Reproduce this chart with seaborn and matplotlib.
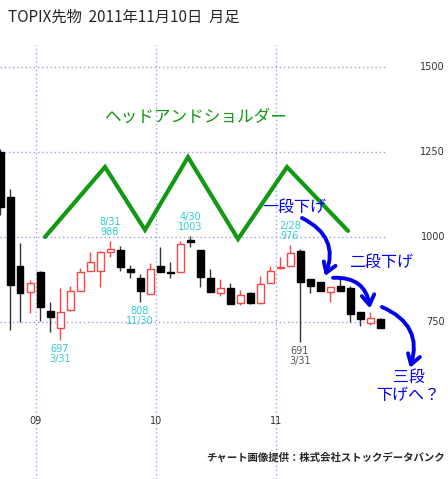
import matplotlib
matplotlib.use("Agg")
import matplotlib.pyplot as plt
import seaborn as sns
import numpy as np

sns.set_style("white")
plt.rcParams['font.family'] = ['Noto Sans CJK JP', 'DejaVu Sans']

months = ["2008-09","2008-10","2008-11","2008-12","2009-01","2009-02","2009-03","2009-04",
          "2009-05","2009-06","2009-07","2009-08","2009-09","2009-10","2009-11","2009-12",
          "2010-01","2010-02","2010-03","2010-04","2010-05","2010-06","2010-07","2010-08",
          "2010-09","2010-10","2010-11","2010-12","2011-01","2011-02","2011-03","2011-04",
          "2011-05","2011-06","2011-07","2011-08","2011-09","2011-10","2011-11"]
opens  = [1250,1118,915,838,897,782,733,785,841,900,900,956,962,906,879,832,915,897,897,990,962,879,835,850,806,835,806,865,909,915,959,876,868,838,856,850,779,747,759]
highs  = [1260,1140,982,873,900,809,850,856,909,956,958,988,974,918,891,924,971,926,988,1003,962,906,877,865,844,838,884,915,941,976,965,876,868,853,882,856,779,779,762]
lows   = [1065,726,750,776,752,720,697,783,841,900,853,941,900,880,808,832,897,879,897,970,853,838,826,803,800,802,802,865,905,915,691,835,841,809,841,750,738,741,732]
closes = [1087,859,835,865,794,765,779,841,897,926,956,965,912,897,841,906,897,894,980,985,882,838,850,803,829,806,862,900,912,953,868,856,841,853,841,774,759,762,732]

year_ticks = [4, 16, 28]
year_labels = ["09", "10", "11"]
y_ticks = [750, 1000, 1250, 1500]

peak_labels = [(11, "8/31\n988", True, "#33cccc"), (6, "697\n3/31", False, "#33cccc"),
               (14, "808\n11/30", False, "#33cccc"), (19, "4/30\n1003", True, "#33cccc"),
               (29, "2/28\n976", True, "#33cccc"), (30, "691\n3/31", False, "#555555")]

hs_x = [4.5, 10.5, 14.5, 18.8, 23.8, 28.7, 34.8]
hs_y = [1000, 1206, 1021, 1235, 994, 1206, 1018]

fig = plt.figure(figsize=(4.48, 4.79), dpi=100)
ax = fig.add_axes([0, 0, 387/448, 434/479])
ax.set_xlim(0, 38.7)
ax.set_ylim(288, 1565)
for s in ax.spines.values():
    s.set_visible(False)
ax.set_xticks([]); ax.set_yticks([])

grid_c = "#9999ff"
for v in y_ticks:
    ax.axhline(v, color=grid_c, lw=1, ls=(0, (1, 2)), zorder=0)
for t in year_ticks:
    ax.axvline(t - 0.4, color=grid_c, lw=1, ls=(0, (1, 2)), zorder=0)

x = np.arange(len(months))
o = np.array(opens); c = np.array(closes)
lo = np.array(lows); hi = np.array(highs)
up = c >= o
ax.vlines(x[~up], lo[~up], hi[~up], color="#333333", lw=1, zorder=1)
ax.vlines(x[up], lo[up], hi[up], color="#ff4444", lw=1, zorder=1)
ax.bar(x[~up], (o - c)[~up], bottom=c[~up], width=0.7, color="black", edgecolor="black", lw=1, zorder=2)
hgt = np.maximum((c - o)[up], 2)
ax.bar(x[up], hgt, bottom=o[up], width=0.7, color="white", edgecolor="#ff4444", lw=1, zorder=2)

for i, txt, above, col in peak_labels:
    if above:
        ax.text(i, hi[i] + 12, txt, ha="center", va="bottom", fontsize=7, color=col, linespacing=0.95, family="DejaVu Sans")
    else:
        ax.text(i, lo[i] - 12, txt, ha="center", va="top", fontsize=7, color=col, linespacing=0.95, family="DejaVu Sans")

for t, lab in zip(year_ticks, year_labels):
    ax.text(t - 0.4, 458, lab, ha="center", va="center", fontsize=7, color="#333333", family="DejaVu Sans")

ax.plot(hs_x, hs_y, color="#119911", lw=3, solid_joinstyle="miter")
ax.text(19.6, 1353, "ヘッドアンドショルダー", ha="center", va="center", fontsize=12, color="#119911")

blue = "#0000ee"
ax.text(29.4, 1088, "一段下げ", ha="center", va="center", fontsize=11.5, color=blue)
ax.text(38.1, 926, "二段下げ", ha="center", va="center", fontsize=11.5, color=blue, clip_on=False)
ax.text(40.9, 588, "三段", ha="center", va="center", fontsize=11.5, color=blue, clip_on=False)
ax.text(40.8, 535, "下げへ？", ha="center", va="center", fontsize=11.5, color=blue, clip_on=False)

arrows = [((30.2, 1056), (32.5, 885)), ((33.3, 880), (37.0, 790)), ((38.2, 794), (41.0, 615))]
for (x0, y0), (x1, y1) in arrows:
    ax.annotate("", xy=(x1, y1), xytext=(x0, y0), annotation_clip=False,
                arrowprops=dict(arrowstyle="->,head_length=0.7,head_width=0.45", color=blue, lw=2.8,
                                connectionstyle="arc3,rad=-0.45", shrinkA=0, shrinkB=0))

fig.text(8/448, 1 - 17/479, "TOPIX先物  2011年11月10日  月足", fontsize=11, va="center", ha="left")
for v in y_ticks:
    yp = ax.transData.transform((0, v))[1] / fig.bbox.height
    fig.text(445/448, yp, str(v), fontsize=7, ha="right", va="center", color="#333333", family="DejaVu Sans")
fig.text(445/448, 1 - 458/479, "チャート画像提供：株式会社ストックデータバンク", fontsize=7.5, ha="right", va="center", weight="bold")

fig.savefig("out.png", dpi=100)
